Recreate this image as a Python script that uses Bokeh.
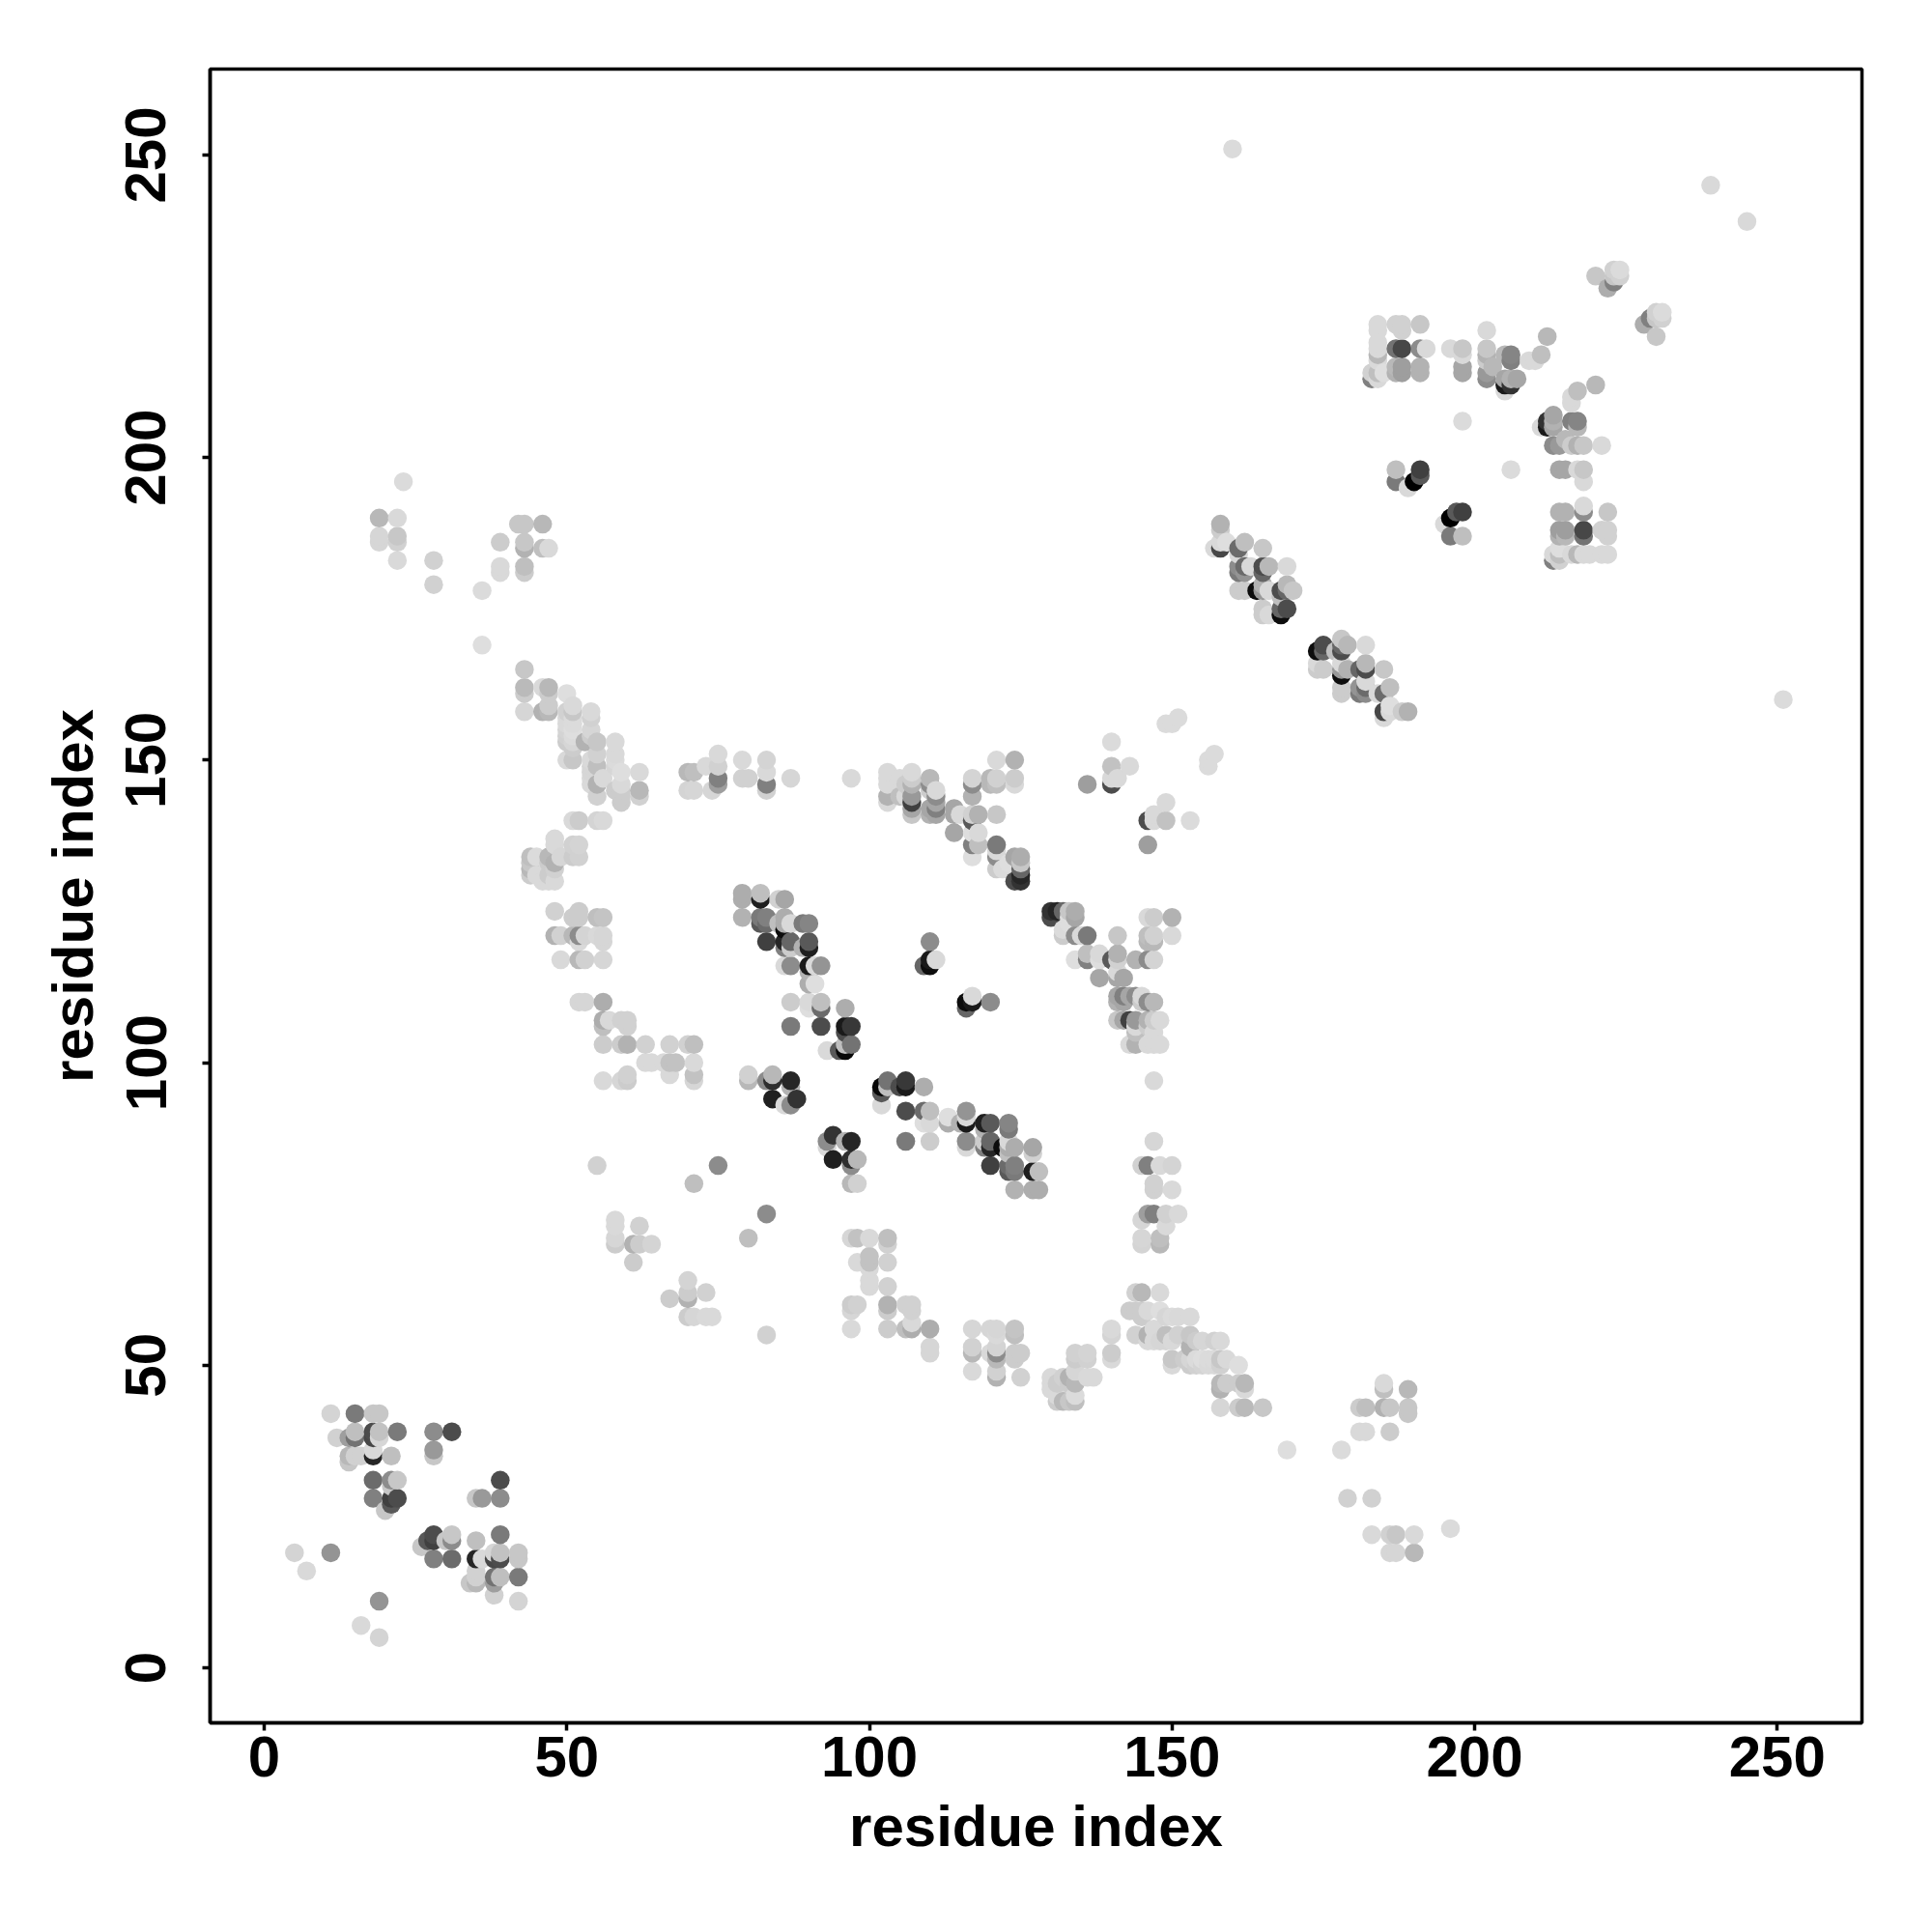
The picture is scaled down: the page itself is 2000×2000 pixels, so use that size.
from bokeh.plotting import figure
from bokeh.models import ColumnDataSource, FixedTicker
from bokeh.embed import file_html
from bokeh.resources import INLINE

tick_values = [0, 50, 100, 150, 200, 250]
axis_title = "residue index"

# Contacts (i < j) and grey level of the dot. Map is symmetric.
a_i = [5,7,11,11,15,18,19,12,14,15,15,18,18,19,19,22,28,31,28,28,14,14,15,16,18,18,21,18,21,22,21,18,21,22,21,20]
a_j = [19,16,19,42,42,42,42,38,38,38,39,39,38,39,38,39,39,39,36,35,35,34,35,35,36,35,35,31,31,31,30,28,28,28,27,26]
a_g = [.83,.85,.58,.83,.48,.78,.78,.82,.62,.45,.75,.3,.28,.76,.84,.48,.55,.3,.6,.78,.72,.78,.82,.82,.85,.15,.75,.42,.55,.78,.78,.5,.25,.3,.35,.78]

b_i = [23,19,22,19,19,22,22,22,28,28,36,36,39,39,39,42,43,46,43,43,46,47,43,43]
b_j = [196,190,190,187,186,187,186,183,183,179,178,169,186,182,181,189,189,189,186,185,185,185,182,181]
b_g = [.86,.72,.85,.84,.84,.78,.82,.85,.82,.82,.86,.87,.8,.85,.85,.78,.78,.72,.78,.7,.75,.85,.75,.8]

c_i = [43,43,43,43,46,47,47,46,47,47,50,51,51,50,50,50,50,50,50,50,51,51,51,51,51,51,51,53,54,54,54,54,54,54,54,54,54,55,55,55,55,55,56,58,58,58,58,58,59,59,59,59,59,62,62,62,51,52,55,56,48,48,51,52,51,52,44,44,44,44,45,45,47,47,47,47,48,48,48,49,46]
c_j = [165,162,161,158,162,162,161,158,159,158,161,159,158,158,157,156,155,154,153,150,157,156,155,154,153,152,150,153,158,157,155,154,150,149,148,147,146,153,151,149,146,144,147,153,151,150,149,145,148,146,145,144,143,148,145,144,140,140,140,140,137,136,136,136,134,134,134,133,132,131,134,131,134,133,131,130,133,132,130,134,130]
c_g = [.78,.73,.8,.84,.85,.72,.8,.7,.8,.72,.87,.85,.78,.82,.85,.85,.83,.82,.8,.85,.86,.86,.87,.86,.84,.8,.78,.7,.85,.82,.84,.8,.85,.84,.84,.85,.85,.78,.82,.75,.7,.82,.85,.85,.85,.86,.84,.8,.87,.85,.8,.8,.8,.85,.72,.82,.85,.8,.83,.85,.85,.85,.82,.83,.8,.82,.75,.78,.72,.8,.86,.85,.72,.8,.8,.85,.7,.82,.85,.84,.85]

d_i = [48,52,51,52,55,56,48,49,51,52,53,56,56,55,52,49,52,53,56,52,53,56,56,56,57,60,60,59,56,59,60,63,67,70,71,63,64,67,68,66,71,67,71,71,56,59,60,60]
d_j = [125,125,124,124,124,124,121,121,121,121,121,121,120,121,120,117,117,117,117,110,110,110,107,106,107,107,106,107,103,103,103,103,103,103,103,100,100,100,100,100,100,98,98,97,97,97,98,97]
d_g = [.82,.8,.8,.8,.75,.77,.7,.82,.72,.55,.83,.84,.84,.85,.85,.85,.72,.82,.84,.84,.84,.68,.68,.75,.85,.82,.82,.82,.8,.8,.7,.82,.82,.82,.75,.85,.85,.76,.76,.85,.85,.85,.76,.84,.85,.84,.82,.8]

e_i = [70,71,70,71,73,74,75,75,75,75,79,80,79,83,83,83,83,87,97,58,58,58,58,61,61,62,62,64,55,71,75]
e_j = [145,145,148,148,149,145,151,149,147,146,147,147,150,150,148,146,145,147,147,74,73,71,70,70,67,73,70,70,83,80,83]
e_g = [.83,.84,.72,.75,.85,.84,.85,.82,.5,.62,.82,.82,.85,.83,.85,.5,.82,.84,.85,.85,.85,.84,.8,.7,.8,.82,.8,.83,.82,.75,.55]

f_i = [79,79,79,82,82,85,86,82,82,83,83,86,85,86,86,87,89,90,83,86,87,86,87,89,90,90,86,87,90,91,92,90,90,91,87,90,90,92,92,96,87,92,96,97,96,93,95,96,96,97,80,80,83,84,84,87,87,87,86,88,84,110,111,110,110,109,124,125]
f_j = [128,127,124,128,127,127,127,124,123,124,123,124,123,123,122,123,123,123,120,120,120,119,119,119,120,119,116,116,116,116,116,115,113,113,110,110,109,110,109,109,106,106,106,106,105,102,102,102,103,103,97,98,97,97,98,97,96,93,93,94,94,120,117,117,116,116,130,130]
f_g = [.68,.68,.7,.75,.12,.82,.65,.48,.35,.5,.42,.68,.75,.68,.05,.85,.48,.52,.25,.15,.4,.5,.8,.7,.35,.12,.85,.55,.1,.85,.58,.7,.68,.87,.8,.85,.87,.75,.42,.68,.48,.3,.1,.22,.3,.85,.35,.03,.75,.45,.72,.82,.55,.18,.72,.15,.7,.55,.85,.2,.12,.55,.85,.1,.05,.4,.3,.2]

g_i = [103,103,103,103,103,105,105,106,106,107,107,107,107,107,107,107,110,110,110,110,110,111,111,111,111,111,114,114,114,115,117,117,117,117,117,118,120,121,120,121,124,124,124,121,121,117,118,117,118,117,121,121,121,121,122,124,125,125,125,125,125,124,123,124]
g_j = [148,147,146,144,143,147,144,146,144,148,147,146,144,143,142,141,147,146,145,142,141,145,144,143,142,141,142,141,138,141,147,146,144,141,140,141,147,147,146,146,150,147,146,150,141,138,138,136,136,134,136,135,134,132,132,134,134,133,132,131,130,133,133,130]
g_g = [.85,.85,.85,.7,.85,.85,.75,.8,.85,.85,.8,.7,.6,.25,.65,.78,.72,.55,.8,.65,.7,.85,.55,.65,.5,.65,.65,.65,.65,.85,.83,.55,.7,.82,.35,.7,.72,.82,.72,.75,.7,.8,.85,.85,.78,.87,.85,.5,.75,.87,.48,.85,.55,.8,.86,.65,.68,.78,.4,.15,.2,.87,.87,.3]

h_i = [136,140,140,141,140,143,140,149,150,151]
h_j = [146,146,147,147,149,149,153,156,156,157]
h_g = [.62,.3,.85,.85,.76,.85,.86,.86,.86,.86]

j_i = [157,158,158,158,158,159,161,161,161,161,161,162,162,162,162,163,164,165,165,165,165,165,165,165,166,166,166,168,168,168,168,169,169,169,169,170]
j_j = [185,185,186,188,189,186,178,181,182,184,185,178,181,182,186,182,178,174,175,178,179,181,182,185,174,178,182,174,175,177,178,175,178,179,182,178]
j_g = [.85,.28,.85,.8,.7,.87,.8,.48,.55,.85,.42,.8,.58,.42,.75,.85,.05,.8,.8,.6,.7,.4,.3,.78,.85,.85,.72,.05,.4,.75,.3,.3,.4,.72,.85,.78]

k_i = [184,184,187,188,188,191,184,184,187,188,191,192,183,184,184,184,185,184,183,187,187,188,188,191,191,196,198,198,198,198,202,202,202,202,202,202,203,205,206,206,205,206,205,206,205,207,209,210,211,212,198,187,191,191,190,187,189]
k_j = [222,221,222,222,221,222,219,218,218,218,218,218,214,217,216,214,214,213,213,215,214,215,214,215,214,218,218,217,215,214,221,218,217,216,214,213,215,217,217,216,213,213,211,212,212,213,216,216,217,220,206,198,198,197,196,196,195]
k_g = [.85,.85,.82,.82,.82,.78,.85,.85,.45,.28,.55,.85,.82,.72,.85,.75,.87,.85,.5,.72,.7,.62,.62,.7,.7,.85,.78,.85,.65,.65,.85,.78,.7,.8,.6,.55,.72,.72,.52,.5,.65,.7,.85,.2,.1,.65,.85,.85,.75,.72,.86,.75,.25,.35,.0,.48,.85]

m_i = [220,222,223,223,223,224,224,239,160]
m_j = [230,228,229,230,231,230,231,245,251]
m_g = [.78,.68,.5,.78,.82,.82,.86,.85,.86]

clusters = [(a_i,a_j,a_g),(b_i,b_j,b_g),(c_i,c_j,c_g),(d_i,d_j,d_g),(e_i,e_j,e_g),
            (f_i,f_j,f_g),(g_i,g_j,g_g),(h_i,h_j,h_g),(j_i,j_j,j_g),(k_i,k_j,k_g),(m_i,m_j,m_g)]

cells = {}
for ci, cj, cg in clusters:
    for i, j, g in zip(ci, cj, cg):
        cells[(i, j)] = g
        cells[(j, i)] = g
keys = sorted(cells)  # later residues drawn on top
xs = [k[0] for k in keys]
ys = [k[1] for k in keys]
cols = ["#{0:02x}{0:02x}{0:02x}".format(int(round(cells[k] * 255))) for k in keys]
src = ColumnDataSource(dict(x=xs, y=ys, c=cols))

W, H = 1984, 1984
p = figure(width=W, height=H, output_backend="svg", toolbar_location=None,
           x_range=(-8.94, 264.0), y_range=(-9.1, 264.2),
           min_border_left=217, min_border_right=W-1927,
           min_border_top=71, min_border_bottom=H-1783)
p.scatter("x", "y", source=src, size=19.5, fill_color="c", line_color=None, marker="circle")

p.grid.visible = False
p.outline_line_color = "black"
p.outline_line_width = 3.5
p.background_fill_color = "white"
for ax in (p.xaxis[0], p.yaxis[0]):
    ax.ticker = FixedTicker(ticks=tick_values)
    ax.axis_line_color = "black"
    ax.axis_line_width = 3.5
    ax.major_tick_line_color = "black"
    ax.major_tick_line_width = 3.5
    ax.major_tick_out = 8
    ax.major_tick_in = 0
    ax.minor_tick_line_color = None
    ax.major_label_text_font = "Liberation Sans"
    ax.major_label_text_font_style = "bold"
    ax.major_label_text_font_size = "60px"
    ax.major_label_text_color = "black"
    ax.axis_label = axis_title
    ax.axis_label_text_font = "Liberation Sans"
    ax.axis_label_text_font_style = "bold"
    ax.axis_label_text_font_size = "60px"
    ax.axis_label_text_color = "black"
p.yaxis[0].major_label_orientation = "vertical"
p.xaxis[0].major_label_standoff = 6
p.yaxis[0].major_label_standoff = 38
p.xaxis[0].axis_label_standoff = 15
p.yaxis[0].axis_label_standoff = 19

open("out.html", "w").write(file_html(p, INLINE))
